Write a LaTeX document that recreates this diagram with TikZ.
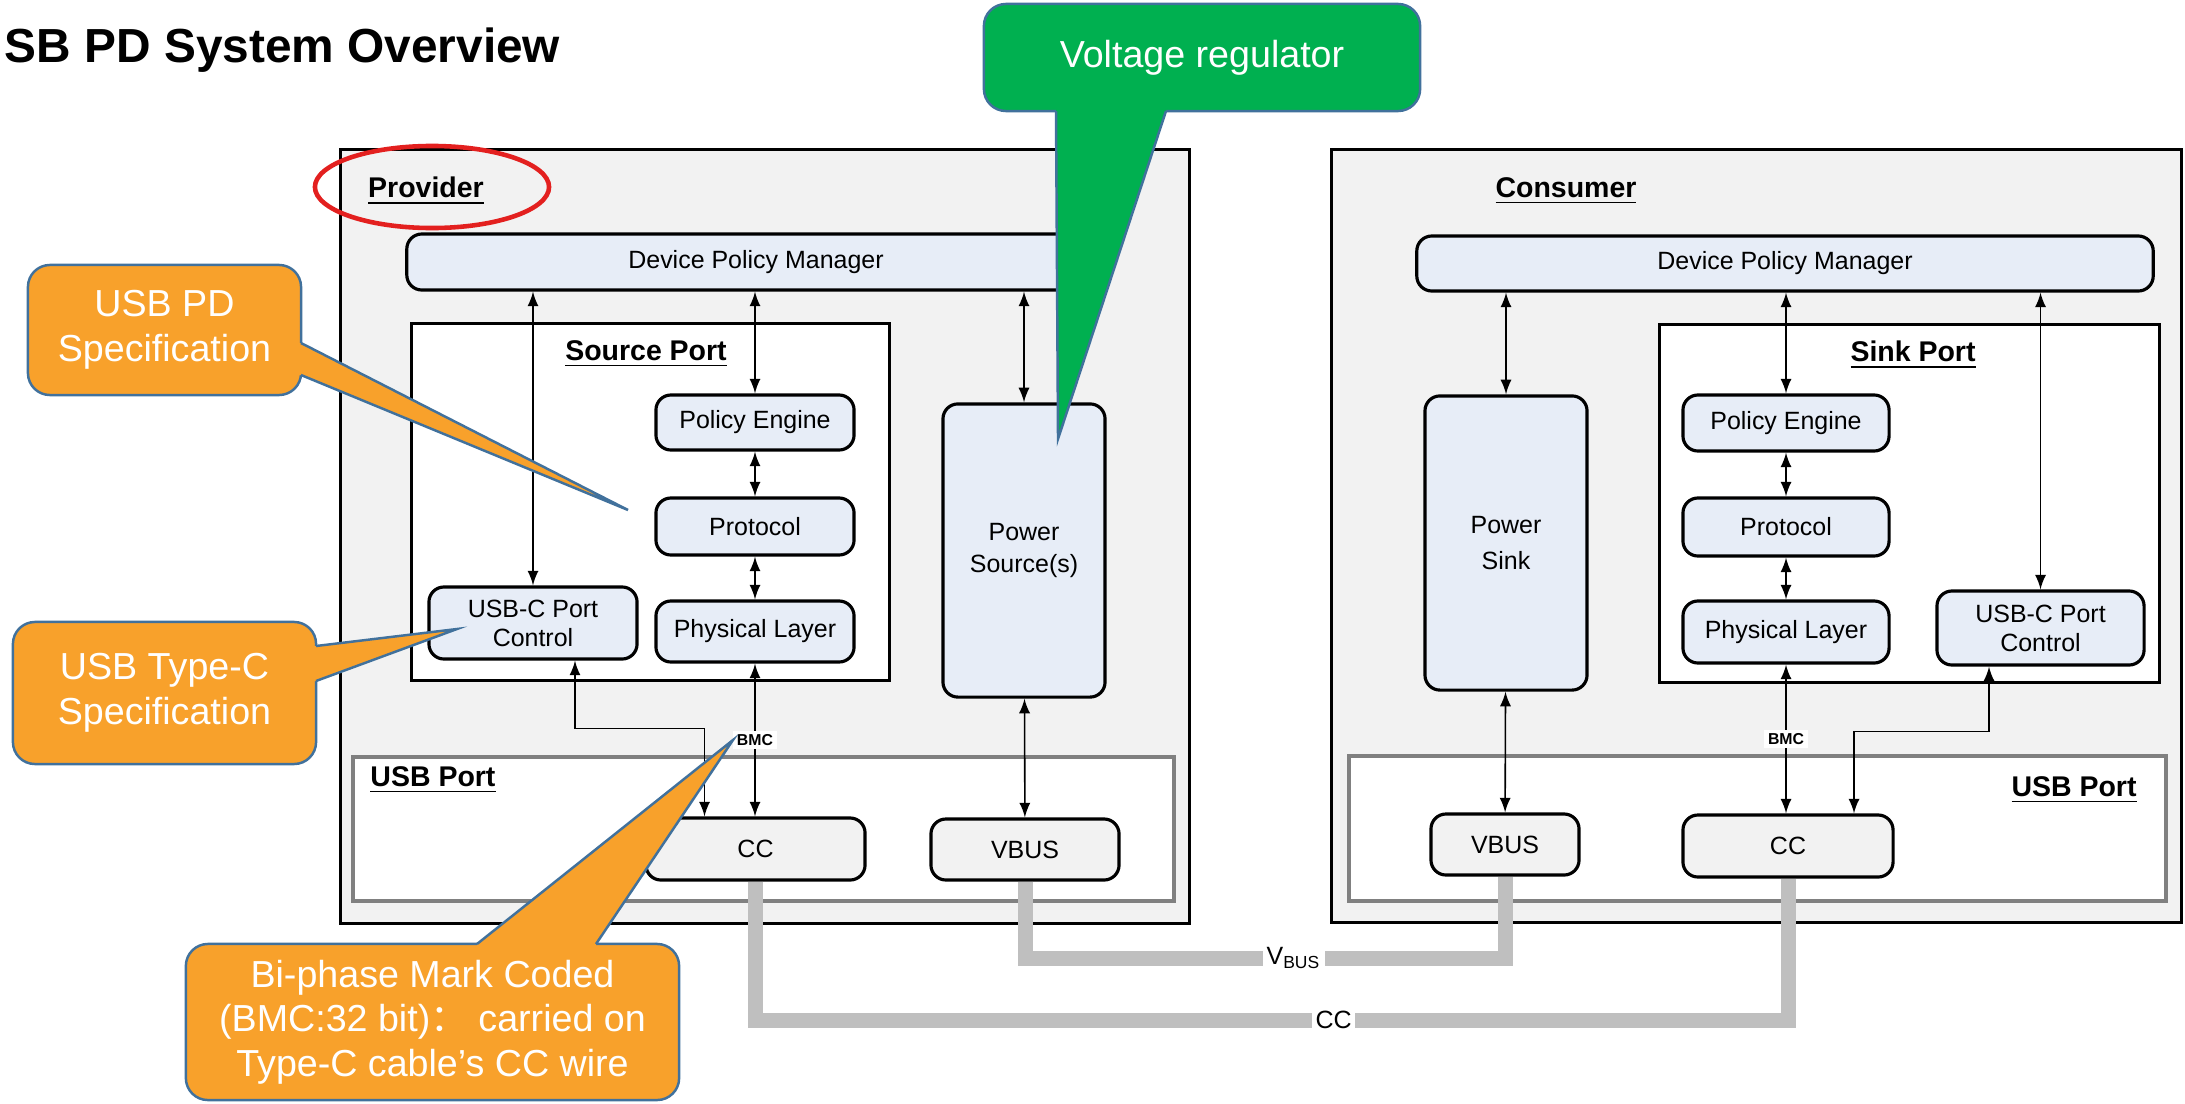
\documentclass[tikz,border=0pt]{standalone}
\usepackage{fontspec}
\setmainfont{Liberation Sans}
\newfontfamily\cjk{Noto Sans CJK SC}
\usetikzlibrary{calc, positioning}
\definecolor{boxgray}{HTML}{F2F2F2}
\definecolor{blockblue}{HTML}{E7EDF7}
\definecolor{cablegray}{HTML}{BFBFBF}
\definecolor{noteorange}{HTML}{F8A12B}
\definecolor{noteedge}{HTML}{41719C}
\definecolor{notegreen}{HTML}{00B050}
\definecolor{ringred}{HTML}{E3201F}

\begin{document}
\begin{tikzpicture}[x=0.01cm, y=-0.01cm, >=latex,
    dev/.style={draw, line width=0.8pt, fill=boxgray},
    blk/.style={draw, line width=0.9pt, rounded corners=1.5mm, fill=blockblue,
                font=\fontsize{7.1}{8.2}\selectfont, align=center, inner sep=0pt},
    plug/.style={blk, fill=boxgray},
    port/.style={draw, line width=0.8pt, fill=white},
    usbport/.style={draw=black!50, line width=1.1pt, fill=white},
    heading/.style={font=\fontsize{8.1}{9}\selectfont\bfseries, inner sep=0pt},
    link/.style={<->, line width=0.45pt},
    cable/.style={draw=cablegray, line width=0.15cm},
    tag/.style={fill=white, inner sep=1pt},
    note/.style={draw=noteedge, line width=0.7pt, rounded corners=2.2mm, text=white,
                 align=center, font=\fontsize{10.7}{12.7}\selectfont, inner sep=0pt},
    noteline/.style={draw=noteedge, line width=0.7pt, line join=miter}
  ]

        \useasboundingbox (0,0) rectangle (2185,1103);

        % slide title, cut at the left edge
        \node[anchor=base west, inner sep=0pt, font=\fontsize{13.6}{16}\selectfont\bfseries] (title) at (4,62) {SB PD System Overview};

        % provider side
        \node[dev, minimum width=8.48cm, minimum height=7.73cm] (prov) at (765,536.5) {};
        \node[heading] (provlbl) at (426,191) {\underline{Provider}};
        \draw[ringred, line width=1.3pt] (432,187) ellipse [x radius=1.17cm, y radius=0.41cm];
        \node[blk, minimum width=6.98cm, minimum height=0.56cm] (dpm1) at (756,262) {Device Policy Manager};
        \node[port, minimum width=4.77cm, minimum height=3.56cm] (src) at (650.5,502) {};
        \node[heading] (srclbl) at (646,354) {\underline{Source Port}};
        \node[blk, minimum width=1.98cm, minimum height=0.55cm] (pe1) at (755,422.5) {Policy Engine};
        \node[blk, minimum width=1.98cm, minimum height=0.57cm] (pr1) at (755,526.5) {Protocol};
        \node[blk, minimum width=1.98cm, minimum height=0.61cm] (pl1) at (755,631.5) {Physical Layer};
        \node[blk, minimum width=2.08cm, minimum height=0.72cm] (uc1) at (533,623) {USB-C Port\\Control};
        \node[blk, minimum width=1.62cm, minimum height=2.93cm, font=\fontsize{7.1}{9}\selectfont] (ps1) at (1024,550.5) {Power\\Source(s)};
        \node[usbport, minimum width=8.21cm, minimum height=1.44cm] (up1) at (763.5,829) {};
        \node[heading] (up1lbl) at (433,780) {\underline{USB Port}};
        \node[plug, minimum width=2.19cm, minimum height=0.62cm] (cc1) at (755.5,849) {CC};
        \node[plug, minimum width=1.88cm, minimum height=0.61cm] (vb1) at (1025,849.5) {VBUS};

        \draw[link] (dpm1.south -| uc1.north) -- (uc1.north);
        \draw[link] (dpm1.south -| pe1.north) -- (pe1.north);
        \draw[link] (pe1) -- (pr1);
        \draw[link] (pr1) -- (pl1);
        \draw[link] (dpm1.south -| ps1.north) -- (ps1.north);
        \draw[link] (pl1.south) -- node[tag, font=\fontsize{4.5}{5}\selectfont\bfseries] {BMC} (pl1.south |- cc1.north);
        \draw[link] ($(uc1.south)+(42,0)$) |- ($(cc1.north)+(-51,-88)$) -- ($(cc1.north)+(-51,0)$);
        \draw[link] (ps1) -- (vb1);

        % consumer side
        \node[dev, minimum width=8.49cm, minimum height=7.72cm] (cons) at (1756.5,536) {};
        \node[heading] (conslbl) at (1566,191) {\underline{Consumer}};
        \node[blk, minimum width=7.36cm, minimum height=0.55cm] (dpm2) at (1785,263.5) {Device Policy Manager};
        \node[port, minimum width=4.99cm, minimum height=3.57cm] (snk) at (1909.5,503.5) {};
        \node[heading] (snklbl) at (1913,355) {\underline{Sink Port}};
        \node[blk, minimum width=2.06cm, minimum height=0.56cm] (pe2) at (1786,423) {Policy Engine};
        \node[blk, minimum width=2.06cm, minimum height=0.58cm] (pr2) at (1786,527) {Protocol};
        \node[blk, minimum width=2.06cm, minimum height=0.62cm] (pl2) at (1786,632) {Physical Layer};
        \node[blk, minimum width=2.07cm, minimum height=0.74cm] (uc2) at (2040.5,628) {USB-C Port\\Control};
        \node[blk, minimum width=1.62cm, minimum height=2.94cm, font=\fontsize{7.1}{10}\selectfont] (pk2) at (1506,543) {Power\\Sink};
        \node[usbport, minimum width=8.17cm, minimum height=1.45cm] (up2) at (1757.5,828.5) {};
        \node[heading] (up2lbl) at (2074,790) {\underline{USB Port}};
        \node[plug, minimum width=1.48cm, minimum height=0.61cm] (vb2) at (1505,844.5) {VBUS};
        \node[plug, minimum width=2.10cm, minimum height=0.62cm] (cc2) at (1788,846) {CC};

        \draw[link] (dpm2.south -| pk2.north) -- (pk2.north);
        \draw[link] (dpm2.south -| pe2.north) -- (pe2.north);
        \draw[link] (pe2) -- (pr2);
        \draw[link] (pr2) -- (pl2);
        \draw[link] (dpm2.south -| uc2.north) -- (uc2.north);
        \draw[link] (pl2.south) -- node[tag, font=\fontsize{4.5}{5}\selectfont\bfseries] {BMC} (pl2.south |- cc2.north);
        \draw[link] ($(uc2.south)+(-51.5,0)$) |- ($(cc2.north)+(66,-82)$) -- ($(cc2.north)+(66,0)$);
        \draw[link] (pk2) -- (vb2);

        % cable
        \draw[cable] (vb1.south) |- node[tag, pos=0.78, font=\fontsize{7.1}{8}\selectfont] {V\textsubscript{BUS}} (vb2.south |- 0,958) -- (vb2.south);
        \draw[cable] (cc1.south) |- node[tag, pos=0.78, font=\fontsize{7.1}{8}\selectfont] {CC} (cc2.south |- 0,1020) -- (cc2.south);

        % callouts
        \node[note, fill=noteorange, minimum width=2.73cm, minimum height=1.30cm] (pdspec) at (164.5,330) {USB PD\\Specification};
        \coordinate (pdtip) at (628,510);
        \fill[noteorange] (297,343) -- (301,343) -- (pdtip) -- (301,375) -- (297,375) -- cycle;
        \draw[noteline] (301,343) -- (pdtip) -- (301,375);

        \node[note, fill=noteorange, minimum width=3.03cm, minimum height=1.42cm] (tcspec) at (164.5,693) {USB Type-C\\Specification};
        \coordinate (tctip) at (457,629);
        \fill[noteorange] (312,646) -- (316,646) -- (tctip) -- (316,681) -- (312,681) -- cycle;
        \draw[noteline] (316,646) -- (tctip) -- (316,681);

        \node[note, fill=noteorange, minimum width=4.93cm, minimum height=1.56cm] (bmcnote) at (432.5,1022) {Bi-phase Mark Coded\\(BMC:32 bit){\cjk ：} carried on\\Type-C cable’s CC wire};
        \coordinate (bmctip) at (733,740);
        \fill[noteorange] (477,948) -- (477,944) -- (bmctip) -- (596,944) -- (596,948) -- cycle;
        \draw[noteline] (477,944) -- (bmctip) -- (596,944);

        \node[note, fill=notegreen, minimum width=4.36cm, minimum height=1.07cm] (vreg) at (1202,57.5) {Voltage regulator};
        \coordinate (vregtip) at (1058,439);
        \fill[notegreen] (1056,107) -- (1056,111) -- (vregtip) -- (1166,111) -- (1166,107) -- cycle;
        \draw[noteline] (1056,111) -- (vregtip) -- (1166,111);

\end{tikzpicture}
\end{document}
